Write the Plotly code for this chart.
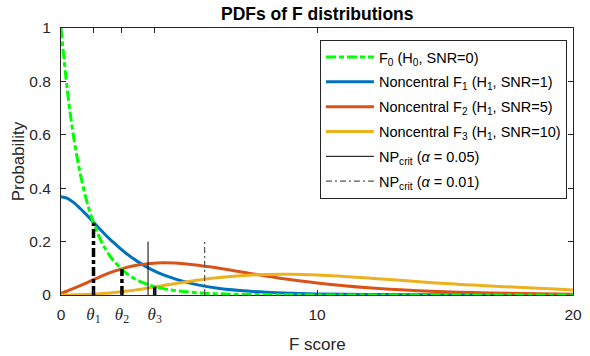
import plotly.graph_objects as go

# ---------------- data ----------------
x_grid = [0, 0.25, 0.5, 0.75, 1, 1.25, 1.5, 1.75, 2, 2.5, 3, 3.5, 4, 5, 6, 7, 8, 9, 10, 12, 15, 20]

f0_h0 = [1.0, 0.765, 0.588, 0.455, 0.353, 0.276, 0.216, 0.170, 0.135, 0.0854, 0.0550, 0.0359,
         0.0238, 0.0108, 0.0051, 0.0025, 0.0013, 0.0007, 0.0004, 0.0001, 0.00003, 0.0]
f1_snr1 = [0.368, 0.362, 0.346, 0.324, 0.300, 0.274, 0.249, 0.224, 0.201, 0.159, 0.125, 0.097,
           0.0755, 0.0453, 0.0272, 0.0165, 0.0101, 0.0062, 0.0039, 0.0016, 0.0005, 0.0001]
f2_snr5 = [0.0067, 0.0149, 0.0244, 0.0349, 0.0458, 0.0567, 0.0673, 0.0773, 0.0864, 0.1015, 0.1121,
           0.1182, 0.1204, 0.1153, 0.1027, 0.0871, 0.0713, 0.0570, 0.0449, 0.0270, 0.0121, 0.0032]
f3_snr10 = [0.00005, 0.00022, 0.00056, 0.0011, 0.0019, 0.0030, 0.0045, 0.0063, 0.0085, 0.0137,
            0.0202, 0.0276, 0.0354, 0.0507, 0.0636, 0.0725, 0.0769, 0.0775, 0.0748, 0.0637, 0.0431, 0.0190]

theta_x = [1.27, 2.38, 3.66]          # decision thresholds theta_1..3
theta_top = [0.271, 0.097, 0.031]     # height of the thick dash-dot markers
theta_labels = ["θ", "θ", "θ"]
theta_subs = ["1", "2", "3"]

crit_x = [3.40, 5.61]                 # NP critical values (alpha = 0.05, 0.01)
crit_top = [0.2, 0.2]

x_ticks = [0, 10, 20]
y_ticks = [0, 0.2, 0.4, 0.6, 0.8, 1]
y_ticklabels = ["0", "0.2", "0.4", "0.6", "0.8", "1"]

names = [
    "F<sub>0</sub> (H<sub>0</sub>, SNR=0)",
    "Noncentral F<sub>1</sub> (H<sub>1</sub>, SNR=1)",
    "Noncentral F<sub>2</sub> (H<sub>1</sub>, SNR=5)",
    "Noncentral F<sub>3</sub> (H<sub>1</sub>, SNR=10)",
    "NP<sub>crit</sub> (<i>α</i> = 0.05)",
    "NP<sub>crit</sub> (<i>α</i> = 0.01)",
]

# ---------------- figure ----------------
BLUE = "#0072BD"
ORANGE = "#D95319"
YELLOW = "#EDB120"
GREEN = "#00FF00"
AX = "#262626"

fig = go.Figure()

fig.add_trace(go.Scatter(x=x_grid, y=f1_snr1, mode="lines", name=names[1],
                         line=dict(color=BLUE, width=3, shape="spline"),
                         legendgroup="g1", legendrank=2))
fig.add_trace(go.Scatter(x=x_grid, y=f2_snr5, mode="lines", name=names[2],
                         line=dict(color=ORANGE, width=3, shape="spline"),
                         legendgroup="g2", legendrank=3))
fig.add_trace(go.Scatter(x=x_grid, y=f3_snr10, mode="lines", name=names[3],
                         line=dict(color=YELLOW, width=3, shape="spline"),
                         legendgroup="g3", legendrank=4))
fig.add_trace(go.Scatter(x=x_grid, y=f0_h0, mode="lines", name=names[0],
                         line=dict(color=GREEN, width=3, shape="spline", dash="10px,3px,5px,3px"),
                         legendgroup="g0", legendrank=1))

# NP critical lines
fig.add_trace(go.Scatter(x=[crit_x[0], crit_x[0]], y=[0, crit_top[0]], mode="lines", name=names[4],
                         line=dict(color="#000000", width=1),
                         legendgroup="g4", legendrank=5))
fig.add_trace(go.Scatter(x=[crit_x[1], crit_x[1]], y=[0, crit_top[1]], mode="lines", name=names[5],
                         line=dict(color="#555555", width=1.2, dash="6px,3px,2px,3px"),
                         legendgroup="g5", legendrank=6))

# thick theta markers
tx, ty = [], []
for xv, yv in zip(theta_x, theta_top):
    tx += [xv, xv, None]
    ty += [0, yv, None]
fig.add_trace(go.Scatter(x=tx, y=ty, mode="lines", showlegend=False,
                         line=dict(color="#000000", width=3.5, dash="9px,3px,4px,3px")))

serif = "'Liberation Serif', 'DejaVu Serif', serif"
tickvals = [x_ticks[0]] + theta_x + x_ticks[1:]
ticktext = [str(x_ticks[0])] + [
    f"<span style=\"font-family:{serif};font-size:17px\"><i>{t}</i><sub>{s}</sub></span>"
    for t, s in zip(theta_labels, theta_subs)
] + [str(v) for v in x_ticks[1:]]

fig.update_xaxes(range=[0, 20], tickvals=tickvals, ticktext=ticktext,
                 ticks="inside", ticklen=5, tickcolor=AX, mirror="ticks",
                 showline=True, linecolor=AX, linewidth=1, showgrid=False, zeroline=False,
                 tickfont=dict(size=15.5, color=AX), ticklabelstandoff=5,
                 ticklabeloverflow="allow")
fig.update_yaxes(range=[0, 1], tickvals=y_ticks, ticktext=y_ticklabels,
                 ticks="inside", ticklen=5, tickcolor=AX, mirror="ticks",
                 showline=True, linecolor=AX, linewidth=1, showgrid=False, zeroline=False,
                 tickfont=dict(size=15.5, color=AX), ticklabelstandoff=6,
                 ticklabeloverflow="allow")

W, H = 590, 356
L, R, T, B = 61, 8, 28, 61
pw, ph = W - L - R, H - T - B

def px_x(p):
    return (p - L) / pw

def px_y(p):
    return (H - B - p) / ph

fig.update_layout(
    width=W, height=H, margin=dict(l=L, r=R, t=T, b=B),
    paper_bgcolor="white", plot_bgcolor="white",
    font=dict(family="'Liberation Sans', Arial, Helvetica, sans-serif", size=15.5, color=AX),
    showlegend=True,
    legend=dict(x=px_x(324.5), y=px_y(40), xanchor="left", yanchor="top",
                bgcolor="white", bordercolor=AX, borderwidth=1,
                font=dict(size=14.5, color="#000000"), itemwidth=48,
                tracegroupgap=3, traceorder="grouped"),
    annotations=[
        dict(text="<b>PDFs of F distributions</b>", x=0.5, y=px_y(14), xref="paper", yref="paper",
             showarrow=False, font=dict(size=17.5, color="#000000"), xanchor="center", yanchor="middle"),
        dict(text="Probability", x=px_x(18), y=0.5, xref="paper", yref="paper", textangle=-90,
             showarrow=False, font=dict(size=17, color=AX), xanchor="center", yanchor="middle"),
        dict(text="F score", x=0.5, y=px_y(344), xref="paper", yref="paper",
             showarrow=False, font=dict(size=17, color=AX), xanchor="center", yanchor="middle"),
    ],
)

fig.write_html("out.html")
